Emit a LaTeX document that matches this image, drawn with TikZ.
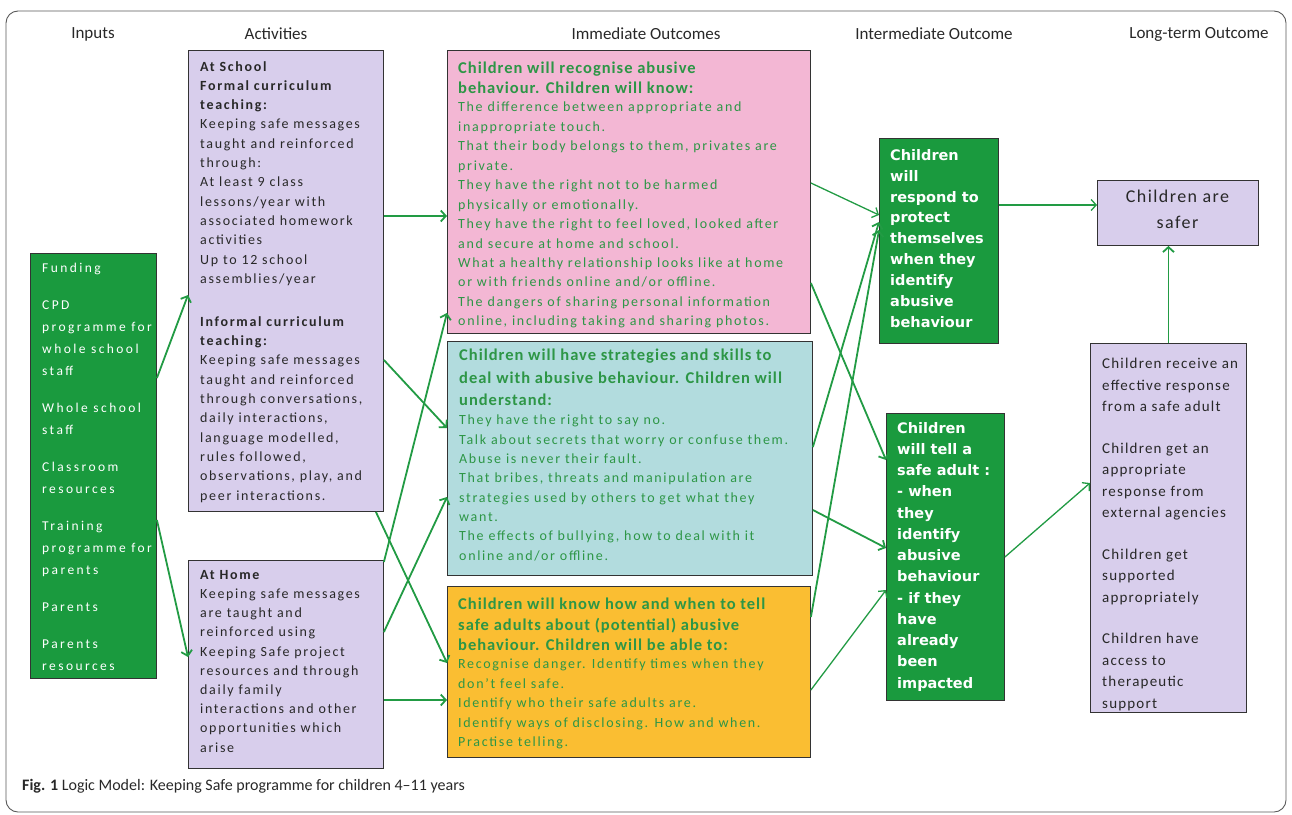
\documentclass[tikz,border=0pt]{standalone}
\usepackage{fontspec}
\setmainfont{Carlito}
\newfontfamily\bodyf[LetterSpace=12]{Carlito}
\newfontfamily\headf[LetterSpace=6]{Carlito}
\newfontfamily\inpf[LetterSpace=18]{Carlito}
\newfontfamily\listf[LetterSpace=8]{Carlito}
\newfontfamily\intf{DejaVu Sans}
\usetikzlibrary{arrows.meta,calc}
\definecolor{gfill}{RGB}{26,154,62}
\definecolor{lav}{RGB}{216,206,236}
\definecolor{pinkf}{RGB}{243,183,212}
\definecolor{tealf}{RGB}{178,220,222}
\definecolor{orangef}{RGB}{250,190,50}
\definecolor{tgreen}{RGB}{45,150,70}
\definecolor{agreen}{RGB}{34,155,68}
\definecolor{tdark}{RGB}{40,40,40}
\begin{document}
\begin{tikzpicture}[x=1pt,y=-1pt,
  box/.style={draw=black!80, line width=0.9pt, anchor=north west, inner sep=0pt},
  txt/.style={anchor=north west, inner sep=0pt, align=left},
  hdr/.style={anchor=center, inner sep=0pt, font=\fontsize{17}{20}\selectfont, text=tdark},
  arr/.style={draw=agreen, line width=1.8pt, -{Straight Barb[length=5pt,width=11pt]}},
  arrt/.style={arr, line width=1.3pt}]
\useasboundingbox (0,0) rectangle (1292,814);
\draw[rounded corners=12pt, draw=black!65, line width=0.9pt] (6,11) rectangle (1286,812);

% headers
\node[hdr] (hInputs) at (93,34) {Inputs};
\node[hdr] (hAct) at (276,34) {Activities};
\node[hdr] (hImm) at (646,34) {Immediate Outcomes};
\node[hdr] (hInt) at (934,34) {Intermediate Outcome};
\node[hdr] (hLong) at (1199,34) {Long-term Outcome};

% boxes
\node[box, fill=gfill, minimum width=126pt, minimum height=425pt] (inputs) at (30,253) {};
\node[box, fill=lav, minimum width=195pt, minimum height=461pt] (school) at (188,50) {};
\node[box, fill=lav, minimum width=195pt, minimum height=208pt] (home) at (188,560) {};
\node[box, fill=pinkf, minimum width=363pt, minimum height=283pt] (pink) at (447,50) {};
\node[box, fill=tealf, minimum width=365pt, minimum height=234pt] (teal) at (447,341) {};
\node[box, fill=orangef, minimum width=363pt, minimum height=171pt] (orange) at (447,586) {};
\node[box, fill=gfill, minimum width=119pt, minimum height=205pt] (int1) at (879,138) {};
\node[box, fill=gfill, minimum width=118pt, minimum height=287pt] (int2) at (886,413) {};
\node[box, fill=lav, minimum width=161pt, minimum height=65pt] (safer) at (1097,180) {};
\node[box, fill=lav, minimum width=156pt, minimum height=369pt] (list) at (1090,343) {};

% texts
\node[txt, text=white, font=\inpf\fontsize{13.5}{22}\selectfont] (inputsT) at (42,263) {Funding\\[15pt]
CPD\\ programme for\\ whole school\\ staff\\[15pt]
Whole school\\ staff\\[15pt]
Classroom\\ resources\\[15pt]
Training\\ programme for\\ parents\\[15pt]
Parents\\[15pt]
Parents\\ resources};

\node[txt, text=tdark, font=\bodyf\fontsize{14}{19.3}\selectfont] (schoolT) at (200,61) {\textbf{At School}\\
\textbf{Formal curriculum}\\
\textbf{teaching:}\\
Keeping safe messages\\
taught and reinforced\\
through:\\
At least 9 class\\
lessons/year with\\
associated homework\\
activities\\
Up to 12 school\\
assemblies/year\\[23.7pt]
\textbf{Informal curriculum}\\
\textbf{teaching:}\\
Keeping safe messages\\
taught and reinforced\\
through conversations,\\
daily interactions,\\
language modelled,\\
rules followed,\\
observations, play, and\\
peer interactions.};

\node[txt, text=tdark, font=\bodyf\fontsize{14}{19.2}\selectfont] (homeT) at (200,570) {\textbf{At Home}\\
Keeping safe messages\\
are taught and\\
reinforced using\\
Keeping Safe project\\
resources and through\\
daily family\\
interactions and other\\
opportunities which\\
arise};

\node[txt, text=tgreen, font=\headf\bfseries\fontsize{16.5}{19.5}\selectfont] (pinkH) at (458,62) {Children will recognise abusive\\
behaviour. Children will know:};
\node[txt, text=tgreen, font=\bodyf\fontsize{14}{19.45}\selectfont] (pinkB) at (458,102) {The difference between appropriate and\\
inappropriate touch.\\
That their body belongs to them, privates are\\
private.\\
They have the right not to be harmed\\
physically or emotionally.\\
They have the right to feel loved, looked after\\
and secure at home and school.\\
What a healthy relationship looks like at home\\
or with friends online and/or offline.\\
The dangers of sharing personal information\\
online, including taking and sharing photos.};

\node[txt, text=tgreen, font=\headf\bfseries\fontsize{16.5}{22.5}\selectfont] (tealH) at (459,349) {Children will have strategies and skills to\\
deal with abusive behaviour. Children will\\
understand:};
\node[txt, text=tgreen, font=\bodyf\fontsize{14}{19.3}\selectfont] (tealB) at (459,415) {They have the right to say no.\\
Talk about secrets that worry or confuse them.\\
Abuse is never their fault.\\
That bribes, threats and manipulation are\\
strategies used by others to get what they\\
want.\\
The effects of bullying, how to deal with it\\
online and/or offline.};

\node[txt, text=tgreen, font=\headf\bfseries\fontsize{16.5}{20.5}\selectfont] (orangeH) at (458,598) {Children will know how and when to tell\\
safe adults about (potential) abusive\\
behaviour. Children will be able to:};
\node[txt, text=tgreen, font=\bodyf\fontsize{14}{19.5}\selectfont] (orangeB) at (458,659) {Recognise danger. Identify times when they\\
don’t feel safe.\\
Identify who their safe adults are.\\
Identify ways of disclosing. How and when.\\
Practise telling.};

\node[txt, text=white, font=\intf\bfseries\fontsize{14.5}{20.9}\selectfont] (int1T) at (890,149) {Children\\ will\\ respond to\\ protect\\ themselves\\ when they\\ identify\\ abusive\\ behaviour};
\node[txt, text=white, font=\intf\bfseries\fontsize{14.5}{21.25}\selectfont] (int2T) at (897,422) {Children\\ will tell a\\ safe adult :\\ - when\\ they\\ identify\\ abusive\\ behaviour\\ - if they\\ have\\ already\\ been\\ impacted};

\node[anchor=north, inner sep=0pt, align=center, text=tdark, font=\listf\fontsize{18}{26}\selectfont] (saferT) at (1177.5,190) {Children are\\ safer};

\begin{scope}
\clip (1090,343) rectangle (1246,711);
\node[txt, text=tdark, font=\listf\fontsize{15}{21.5}\selectfont] (listT) at (1102,358) {Children receive an\\ effective response\\ from a safe adult\\[20pt]
Children get an\\ appropriate\\ response from\\ external agencies\\[20pt]
Children get\\ supported\\ appropriately\\[20pt]
Children have\\ access to\\ therapeutic\\ support};
\end{scope}

\node[anchor=west, inner sep=0pt, text=tdark, font=\fontsize{16}{19}\selectfont] (caption) at (22,786) {\textbf{Fig. 1} Logic Model: Keeping Safe programme for children 4–11 years};

% arrows
\draw[arr] ($(inputs.north east)+(0,125)$) -- ($(school.north west)+(0,245)$);
\draw[arr] ($(inputs.north east)+(0,267)$) -- ($(home.north west)+(0,97)$);
\draw[arr] ($(school.north east)+(0,166)$) -- ($(pink.north west)+(0,166)$);
\draw[arr] ($(school.north east)+(0,310)$) -- ($(teal.north west)+(0,87)$);
\draw[arr] ($(school.south east)+(-8,0)$) -- ($(orange.north west)+(0,77)$);
\draw[arr] ($(home.north east)+(0,2)$) -- ($(pink.south west)+(0,-21)$);
\draw[arr] ($(home.north east)+(0,72)$) -- ($(teal.north west)+(0,156)$);
\draw[arr] ($(home.north east)+(0,140)$) -- ($(orange.north west)+(0,114)$);
\draw[arrt] ($(pink.north east)+(0,133)$) -- ($(int1.north west)+(0,77)$);
\draw[arr] ($(pink.north east)+(0,233)$) -- ($(int2.north west)+(0,47)$);
\draw[arr] ($(teal.north east)+(0,106)$) -- ($(int1.north west)+(0,84)$);
\draw[arr] ($(teal.north east)+(0,169)$) -- ($(int2.north west)+(0,135)$);
\draw[arr] ($(orange.north east)+(0,31)$) -- ($(int1.north west)+(0,92)$);
\draw[arrt] ($(orange.north east)+(0,104)$) -- ($(int2.north west)+(0,177)$);
\draw[arrt] ($(int1.north east)+(0,67)$) -- ($(safer.north west)+(0,25)$);
\draw[arrt] ($(int2.north east)+(0,144)$) -- ($(list.north west)+(0,140)$);
\draw[arr] (list.north) -- (list.north |- safer.south);
\end{tikzpicture}
\end{document}
